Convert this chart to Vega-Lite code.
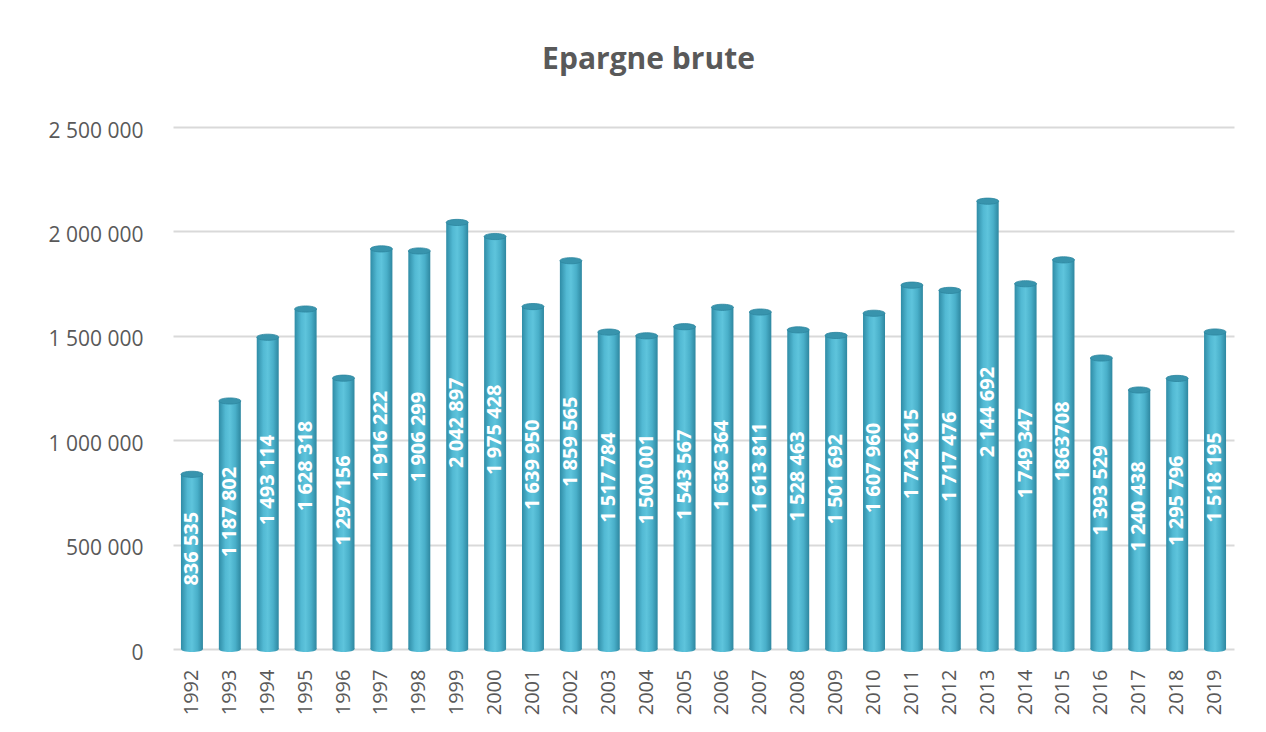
{
  "$schema": "https://vega.github.io/schema/vega-lite/v6.json",
  "width": 1061,
  "height": 522,
  "autosize": "none",
  "padding": {"left": 173, "top": 127, "right": 32, "bottom": 83},
  "background": "white",
  "title": {"text": "Epargne brute", "fontSize": 30, "font": "Open Sans", "fontWeight": "bold", "color": "#595959", "offset": 45, "dx": -55, "anchor": "middle"},
  "data": {"values": [
    {"year": "1992", "value": 836535, "label": "836 535"},
    {"year": "1993", "value": 1187802, "label": "1 187 802"},
    {"year": "1994", "value": 1493114, "label": "1 493 114"},
    {"year": "1995", "value": 1628318, "label": "1 628 318"},
    {"year": "1996", "value": 1297156, "label": "1 297 156"},
    {"year": "1997", "value": 1916222, "label": "1 916 222"},
    {"year": "1998", "value": 1906299, "label": "1 906 299"},
    {"year": "1999", "value": 2042897, "label": "2 042 897"},
    {"year": "2000", "value": 1975428, "label": "1 975 428"},
    {"year": "2001", "value": 1639950, "label": "1 639 950"},
    {"year": "2002", "value": 1859565, "label": "1 859 565"},
    {"year": "2003", "value": 1517784, "label": "1 517 784"},
    {"year": "2004", "value": 1500001, "label": "1 500 001"},
    {"year": "2005", "value": 1543567, "label": "1 543 567"},
    {"year": "2006", "value": 1636364, "label": "1 636 364"},
    {"year": "2007", "value": 1613811, "label": "1 613 811"},
    {"year": "2008", "value": 1528463, "label": "1 528 463"},
    {"year": "2009", "value": 1501692, "label": "1 501 692"},
    {"year": "2010", "value": 1607960, "label": "1 607 960"},
    {"year": "2011", "value": 1742615, "label": "1 742 615"},
    {"year": "2012", "value": 1717476, "label": "1 717 476"},
    {"year": "2013", "value": 2144692, "label": "2 144 692"},
    {"year": "2014", "value": 1749347, "label": "1 749 347"},
    {"year": "2015", "value": 1863708, "label": "1863708"},
    {"year": "2016", "value": 1393529, "label": "1 393 529"},
    {"year": "2017", "value": 1240438, "label": "1 240 438"},
    {"year": "2018", "value": 1295796, "label": "1 295 796"},
    {"year": "2019", "value": 1518195, "label": "1 518 195"}
  ]},
  "encoding": {
    "x": {"field": "year", "type": "ordinal", "title": null, "scale": {"paddingInner": 0.42, "paddingOuter": 0.21}}
  },
  "layer": [
    {
      "encoding": {
        "y": {"field": "value", "type": "quantitative", "title": null, "scale": {"domain": [0, 2500000], "nice": false},
          "axis": {"values": [0, 500000, 1000000, 1500000, 2000000, 2500000], "format": ",d"}}
      },
      "layer": [
        {
          "mark": {"type": "bar", "color": {"gradient": "linear", "x1": 0, "x2": 1, "y1": 0, "y2": 0, "stops": [
            {"offset": 0, "color": "#2f8ca6"},
            {"offset": 0.3, "color": "#52b9d3"},
            {"offset": 0.5, "color": "#5ec4dc"},
            {"offset": 0.75, "color": "#49afc9"},
            {"offset": 1, "color": "#2e87a0"}
          ]}}
        },
        {
          "mark": {"type": "point", "filled": true, "opacity": 1, "size": 484,
            "shape": "M-1,0 A1,0.28 0 1,0 1,0 A1,0.28 0 1,0 -1,0 Z",
            "color": {"gradient": "linear", "x1": 0, "x2": 1, "y1": 0, "y2": 0, "stops": [
            {"offset": 0, "color": "#2f8ca6"},
            {"offset": 0.3, "color": "#52b9d3"},
            {"offset": 0.5, "color": "#5ec4dc"},
            {"offset": 0.75, "color": "#49afc9"},
            {"offset": 1, "color": "#2e87a0"}
          ]}},
          "encoding": {
            "y": {"datum": 0, "type": "quantitative"}
          }
        },
        {
          "mark": {"type": "point", "filled": true, "opacity": 1, "size": 484,
            "shape": "M-1,0 A1,0.28 0 1,0 1,0 A1,0.28 0 1,0 -1,0 Z",
            "color": "#3894ad", "stroke": "#2d86a0", "strokeWidth": 0.8}
        }
      ]
    },
    {
      "mark": {"type": "text", "angle": 270, "align": "center", "baseline": "middle", "dx": 13, "fill": "#ffffff", "opacity": 1, "font": "Open Sans", "fontWeight": "bold", "fontSize": 20},
      "encoding": {
        "y": {"field": "value", "type": "quantitative", "scale": {"domain": [0, 5000000], "nice": false}, "axis": null},
        "text": {"field": "label"}
      }
    }
  ],
  "resolve": {"scale": {"y": "independent"}, "axis": {"y": "independent"}},
  "config": {
    "locale": {"number": {"decimal": ",", "thousands": " ", "grouping": [3], "currency": ["", " €"]}},
    "view": {"stroke": null},
    "axis": {"labelFont": "Open Sans", "labelFontSize": 20, "labelColor": "#595959", "domain": false, "ticks": false},
    "axisY": {"gridColor": "#d9d9d9", "gridWidth": 2, "labelPadding": 30, "labelFontSize": 21, "labelOffset": 4},
    "axisX": {"labelAngle": -90, "labelPadding": 20, "grid": false}
  }
}
